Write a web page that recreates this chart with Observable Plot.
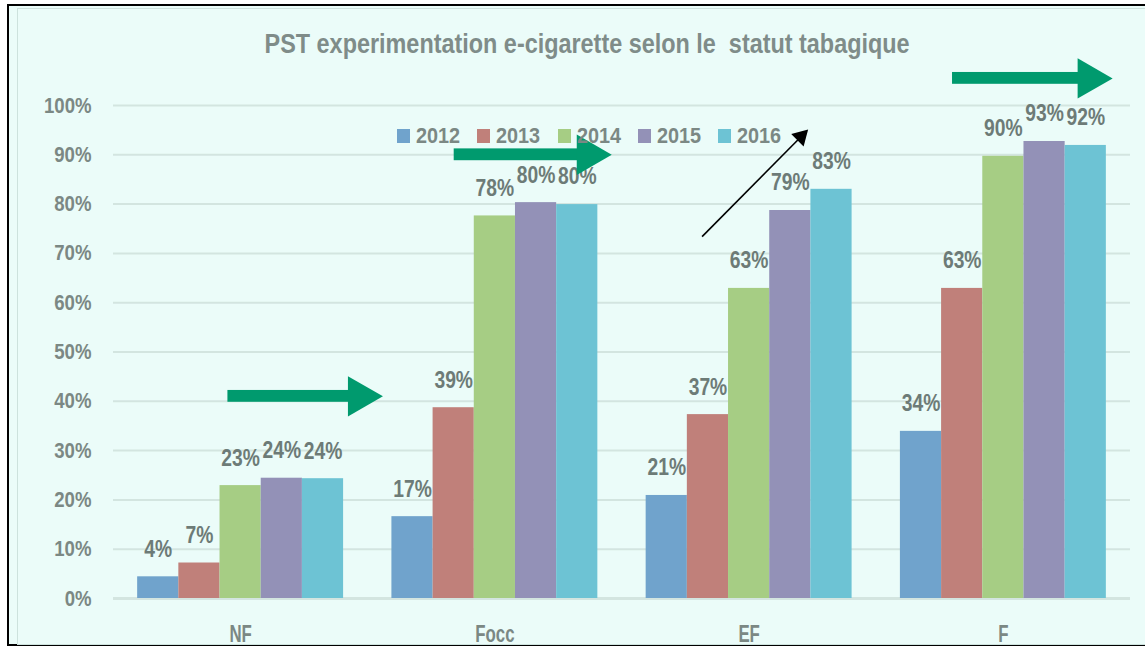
<!DOCTYPE html>
<html><head><meta charset="utf-8">
<script src="https://cdn.jsdelivr.net/npm/d3@7"></script>
<script src="https://cdn.jsdelivr.net/npm/@observablehq/plot@0.6"></script>
<style>
body{margin:0;background:#fff;width:1145px;height:648px;overflow:hidden;position:relative;font-family:"Liberation Sans",Arial,sans-serif;font-weight:bold;}
#frame{position:absolute;left:7px;top:4px;width:1160px;height:642px;border:2px solid #000;border-right:none;background:#ebfcf9;box-sizing:border-box;}
#inner{position:absolute;left:17px;top:8px;width:1150px;height:637px;border:1px solid #cde2dd;border-right:none;box-sizing:border-box;}
#title{position:absolute;top:31px;left:0;width:1175px;text-align:center;font-size:27px;line-height:27px;color:#7f8c89;white-space:pre;}
#title span{display:inline-block;transform-origin:50% 50%;}
#legend{position:absolute;left:397px;top:125px;display:flex;}
.item{display:flex;align-items:center;width:80.3px;height:22px;font-size:22px;line-height:22px;color:#7b8884;}
.sw{width:13px;height:14px;margin-right:6px;flex:none;}
.lt{display:inline-block;transform:scaleX(0.9);transform-origin:0 50%;}
#chart{position:absolute;left:0;top:0;}
</style></head>
<body>
<div id="frame"></div>
<div id="inner"></div>
<div id="chart"></div>
<div id="title"><span>PST experimentation e-cigarette selon le  statut tabagique</span></div>
<div id="legend"></div>
<script>
const categories = ["NF", "Focc", "EF", "F"];
const years = ["2012", "2013", "2014", "2015", "2016"];
const v2012 = [4.4, 16.6, 20.9, 33.9];
const v2013 = [7.2, 38.7, 37.3, 62.9];
const v2014 = [22.9, 77.6, 62.9, 89.7];
const v2015 = [24.4, 80.3, 78.7, 92.7];
const v2016 = [24.3, 79.9, 83.0, 91.9];
const yTicks = [0, 10, 20, 30, 40, 50, 60, 70, 80, 90, 100];
const colors = ["#70a3cc", "#c0807a", "#a6cd84", "#9391b7", "#6dc3d4"];
// annotation arrows (x in category-index units, y in %)
const greenArrows = [
  {x1: -0.05, x2: 0.56, y: 41.0},
  {x1: 0.84, x2: 1.46, y: 90.0},
  {x1: 2.80, x2: 3.43, y: 105.5}
];
const blackArrow = [{x1: 1.815, y1: 73.4, x2: 2.232, y2: 95.1}];

const series = [v2012, v2013, v2014, v2015, v2016];
const rows = [];
categories.forEach((c, ci) => years.forEach((yr, yi) => rows.push({cat: c, ci, year: yr, yi, value: series[yi][ci]})));
const bw = 0.162;
const left = d => d.ci - 2.5 * bw + d.yi * bw;

const green = "#009a6e";
const chart = Plot.plot({
  width: 1145, height: 648,
  marginLeft: 113, marginRight: 15, marginTop: 105, marginBottom: 50,
  style: {background: "transparent", fontFamily: '"Liberation Sans",Arial,sans-serif', fontSize: "22px", fontWeight: "bold", color: "#7b8884", overflow: "visible"},
  x: {domain: [-0.5, 3.5], axis: null},
  y: {domain: [0, 100], axis: null},
  color: {domain: years, range: colors},
  marks: [
    Plot.gridY(yTicks, {stroke: "#d3e5e0", strokeOpacity: 1, strokeWidth: 2}),
    Plot.ruleY([0], {stroke: "#d3e5e0", strokeWidth: 3}),
    Plot.axisY(yTicks, {tickFormat: d => d + "%", tickSize: 0, tickPadding: 22, fontSize: 22, label: null, fill: "#7b8884"}),
    Plot.axisX([0, 1, 2, 3], {tickFormat: i => categories[i], tickSize: 0, tickPadding: 26, fontSize: 24, label: null, fill: "#7b8884"}),
    Plot.rectY(rows, {x1: left, x2: d => left(d) + bw, y1: 0, y2: "value", fill: "year"}),
    Plot.text(rows, {x: d => left(d) + bw / 2, y: "value", text: d => Math.round(d.value) + "%", dy: -28, fontSize: 24.7, fill: "#6d7b77", fontWeight: "bold", className: "vlabel"}),
    Plot.rect(greenArrows, {x1: "x1", x2: d => d.x2 - 0.13, y1: d => d.y - 1.2, y2: d => d.y + 1.2, fill: green}),
    Plot.dot(greenArrows, {x: d => d.x2 - 0.092, y: "y", symbol: "triangle", r: 15, rotate: 90, fill: green, stroke: "none"}),
    Plot.link(blackArrow, {x1: "x1", y1: "y1", x2: d => d.x2 - 0.028, y2: d => d.y2 - 1.43, stroke: "#000", strokeWidth: 1.6}),
    Plot.dot(blackArrow, {x: d => d.x2 - 0.028, y: d => d.y2 - 1.43, symbol: "triangle", r: 6.5, rotate: 45, fill: "#000", stroke: "none"})
  ]
});
document.getElementById("chart").appendChild(chart);

// condense glyphs to mimic the narrow original typeface
function squeeze(selector, f) {
  chart.querySelectorAll(selector).forEach(t => {
    const w = t.getComputedTextLength();
    if (w > 0) { t.setAttribute("textLength", (w * f).toFixed(2)); t.setAttribute("lengthAdjust", "spacingAndGlyphs"); }
  });
}
squeeze('g[aria-label="y-axis tick label"] text', 0.845);
squeeze('g[aria-label="x-axis tick label"] text', 0.7);
let vl = chart.querySelectorAll('.vlabel text');
if (vl.length) squeeze('.vlabel text', 0.78); else squeeze('g[aria-label="text"] text', 0.78);

const titleSpan = document.querySelector("#title span");
const tw = titleSpan.getBoundingClientRect().width;
titleSpan.style.transform = `scaleX(${645 / tw})`;

const legend = document.getElementById("legend");
years.forEach((yr, i) => {
  const it = document.createElement("div");
  it.className = "item";
  it.innerHTML = `<span class="sw" style="background:${colors[i]}"></span><span class="lt">${yr}</span>`;
  legend.appendChild(it);
});
</script>
</body></html>
